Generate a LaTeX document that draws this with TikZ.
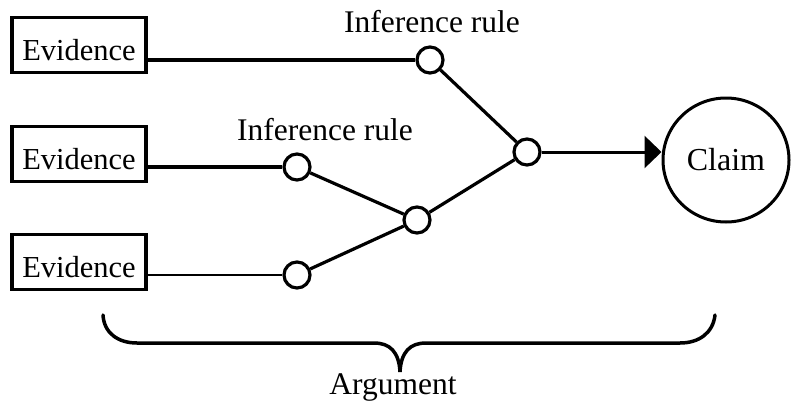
\documentclass[tikz,border=0pt]{standalone}
\usepackage{fontspec}
\setmainfont{Liberation Serif}
\usetikzlibrary{shapes.geometric,arrows.meta}
\begin{document}
\begin{tikzpicture}[x=1pt,y=-1pt,
  evbox/.style={draw,line width=3.6pt,rectangle,minimum width=134pt,minimum height=55pt,
    inner sep=0pt,text height=30pt,text depth=0pt,font=\fontsize{30.5}{34}\selectfont},
  rule/.style={draw,circle,line width=3.2pt,minimum size=26pt,inner sep=0pt,fill=white},
  lbl/.style={anchor=base,inner sep=0pt,font=\fontsize{31.5}{34}\selectfont},
  conn/.style={line width=3.2pt}]
\useasboundingbox (0,0) rectangle (793,402);
% evidence boxes
\node[evbox] (e1) at (79,45) {Evidence};
\node[evbox] (e2) at (79,154) {Evidence};
\node[evbox] (e3) at (79,262) {Evidence};
% inference circles
\node[rule] (c1) at (430,60) {};
\node[rule] (c2) at (297,167) {};
\node[rule] (c3) at (297,275) {};
\node[rule] (c4) at (417,220) {};
\node[rule] (c5) at (527,152) {};
% claim
\node[draw,ellipse,line width=3pt,minimum width=126pt,minimum height=124pt,inner sep=0pt,
  font=\fontsize{32}{34}\selectfont] (cl) at (726,160) {Claim};
% labels
\node[lbl] (l1) at (432,32) {Inference rule};
\node[lbl] (l2) at (325,140) {Inference rule};
\node[lbl] (l3) at (393,394) {Argument};
% connectors
\draw[conn] (e1.east |- c1.west) -- (c1.west);
\draw[line width=4.2pt] (e2.east |- c2.west) -- (c2.west);
\draw[line width=2pt] (e3.east |- c3.west) -- (c3.west);
\draw[conn] (c1) -- (c5);
\draw[conn] (c2) -- (c4);
\draw[conn] (c3) -- (c4);
\draw[conn] (c4) -- (c5);
\draw[line width=3pt,-{Triangle[length=17pt,width=32pt]}] (c5.east) -- (cl.west |- c5.east);
% brace
\draw[line width=3.5pt,line cap=round]
  (103,315) .. controls (104,333) and (118,343) .. (137,343) -- (374,343)
  .. controls (390,343) and (399,352) .. (400,372)
  .. controls (401,352) and (410,343) .. (426,343) -- (680,343)
  .. controls (699,343) and (713,333) .. (715,315);
\end{tikzpicture}
\end{document}
